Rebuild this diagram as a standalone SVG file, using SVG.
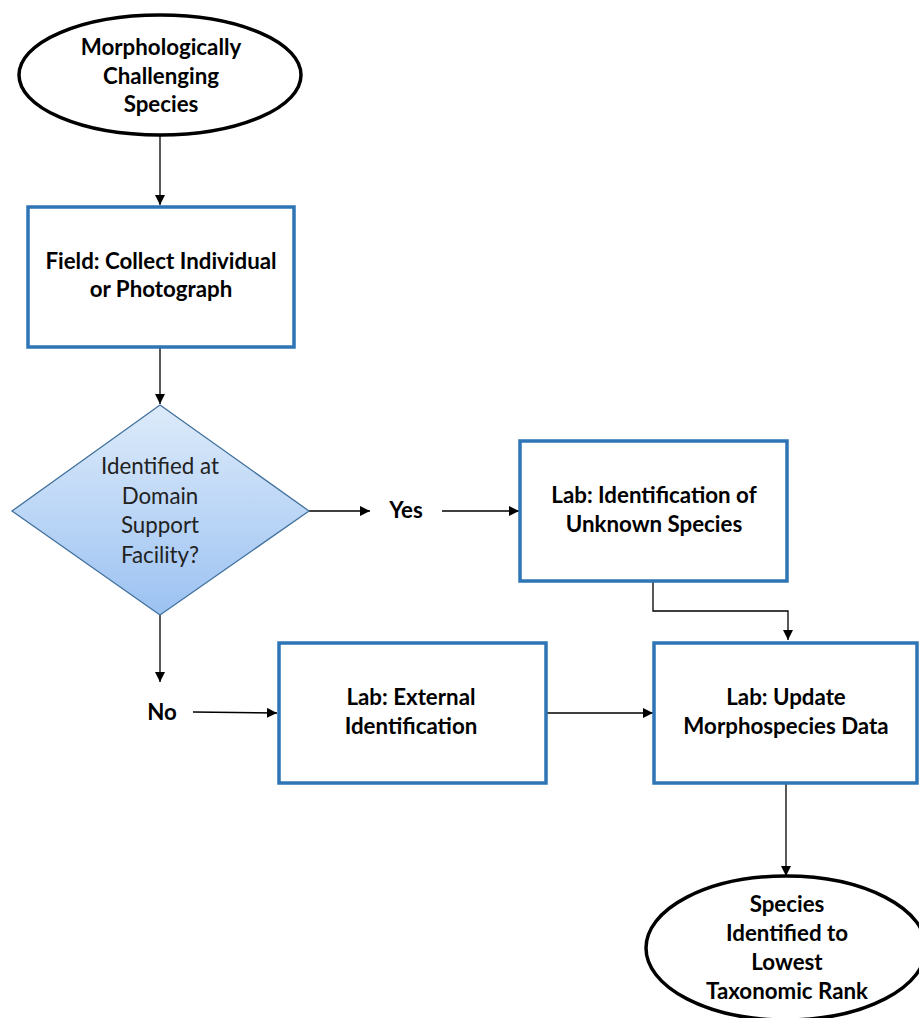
<svg xmlns="http://www.w3.org/2000/svg" width="919" height="1018" viewBox="0 0 919 1018">
<style>
.t{font-family:Lato,"Open Sans","Liberation Sans",sans-serif;font-size:22.3px;font-weight:bold;fill:#000;text-anchor:middle}
.n{font-weight:normal;fill:#222}
.box{fill:#fff;stroke:#2E75B6;stroke-width:3.5}
.ell{fill:#fff;stroke:#000;stroke-width:3.5}
.c{fill:none;stroke:#000;stroke-width:1.3;marker-end:url(#ah)}
</style>
<defs>
<marker id="ah" viewBox="0 0 10 10" refX="10" refY="5" markerWidth="10" markerHeight="10" markerUnits="userSpaceOnUse" orient="auto">
<path d="M0,0 L10,5 L0,10 z" fill="#000"/>
</marker>
<linearGradient id="dg" x1="0" y1="0" x2="0" y2="1">
<stop offset="0" stop-color="#DDEBFA"/>
<stop offset="1" stop-color="#9CC2F2"/>
</linearGradient>
</defs>
<rect width="919" height="1018" fill="#fff"/>
<g id="connectors">
<path class="c" d="M160,136 V205"/>
<path class="c" d="M160,348 V404"/>
<path class="c" d="M309,511 H370"/>
<path class="c" d="M442,511 H519"/>
<path class="c" d="M653,582 V611 H788 V640"/>
<path class="c" d="M160,615 V682"/>
<path class="c" d="M193,712 L277,713"/>
<path class="c" d="M547,713 H653"/>
<path class="c" d="M786,784 V876"/>
</g>
<g id="start">
<ellipse class="ell" cx="160" cy="75" rx="141" ry="60"/>
<text class="t" x="161" y="55">Morphologically</text>
<text class="t" x="161" y="84">Challenging</text>
<text class="t" x="161" y="112">Species</text>
</g>
<g id="field">
<rect class="box" x="28" y="207" width="266" height="140"/>
<text class="t" x="161" y="269">Field: Collect Individual</text>
<text class="t" x="161" y="297">or Photograph</text>
</g>
<g id="decision">
<polygon points="160,405 309,511 160,615 12,511" fill="url(#dg)" stroke="#41719C" stroke-width="1.3"/>
<text class="t n" x="160" y="474">Identified at</text>
<text class="t n" x="160" y="504">Domain</text>
<text class="t n" x="160" y="533">Support</text>
<text class="t n" x="160" y="563">Facility?</text>
</g>
<g id="yes">
<text class="t" x="406" y="518">Yes</text>
</g>
<g id="no">
<text class="t" x="162" y="720">No</text>
</g>
<g id="lab-unknown">
<rect class="box" x="520" y="441" width="267" height="140"/>
<text class="t" x="654" y="503">Lab: Identification of</text>
<text class="t" x="654" y="532">Unknown Species</text>
</g>
<g id="lab-external">
<rect class="box" x="279" y="643" width="267" height="140"/>
<text class="t" x="411" y="705">Lab: External</text>
<text class="t" x="411" y="734">Identification</text>
</g>
<g id="lab-update">
<rect class="box" x="654" y="643" width="263" height="140"/>
<text class="t" x="786" y="705">Lab: Update</text>
<text class="t" x="786" y="734">Morphospecies Data</text>
</g>
<g id="end">
<ellipse class="ell" cx="786" cy="948" rx="140" ry="72"/>
<text class="t" x="787" y="912">Species</text>
<text class="t" x="787" y="941">Identified to</text>
<text class="t" x="787" y="970">Lowest</text>
<text class="t" x="787" y="999">Taxonomic Rank</text>
</g>
</svg>
